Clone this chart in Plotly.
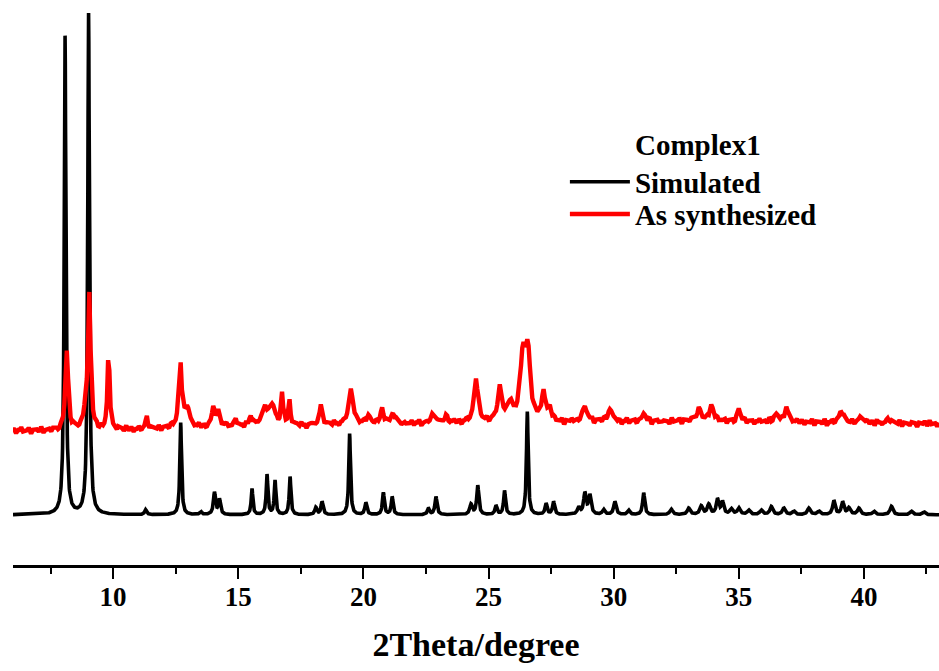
import numpy as np
import plotly.graph_objects as go

# ---- Simulated pattern: peak list (2theta, height, half-width) ----
sim_pos = [8.08, 9.02, 11.3, 12.70, 13.5, 14.05, 14.25, 15.55, 16.15, 16.47, 17.07,
           18.1, 18.35, 19.45, 20.1, 20.8, 21.15, 22.6, 22.9, 24.3, 24.57, 25.3, 25.64,
           26.55, 27.3, 27.6, 28.6, 28.85, 29.05, 29.6, 30.05, 30.6, 31.2, 32.3, 33.0,
           33.5, 33.8, 34.15, 34.35, 34.7, 35.0, 35.4, 35.9, 36.3, 36.8, 37.2, 37.8,
           38.2, 38.8, 39.15, 39.4, 39.8, 40.4, 41.1, 41.9, 42.4]
sim_hgt = [95.5, 100.0, 1.0, 18.4, 0.6, 4.4, 3.0, 5.2, 8.0, 6.8, 7.6,
           1.4, 2.6, 16.2, 2.4, 4.4, 3.6, 1.2, 3.6, 2.0, 5.8, 1.8, 4.8,
           20.6, 2.2, 2.6, 1.4, 4.2, 3.8, 1.0, 2.6, 0.9, 4.4, 1.1, 1.3,
           1.7, 2.0, 3.0, 2.5, 1.1, 1.3, 0.9, 0.9, 1.6, 1.3, 0.7, 1.3,
           0.7, 2.8, 2.5, 1.3, 1.3, 0.7, 1.7, 0.7, 0.6]
sim_wid = [0.04, 0.04, 0.05, 0.04, 0.05, 0.05, 0.05, 0.04, 0.04, 0.04, 0.04,
           0.05, 0.05, 0.04, 0.05, 0.045, 0.045, 0.05, 0.05, 0.06, 0.05, 0.05, 0.045,
           0.04, 0.05, 0.05, 0.06, 0.06, 0.06, 0.06, 0.06, 0.06, 0.05, 0.07, 0.07,
           0.07, 0.07, 0.06, 0.06, 0.07, 0.07, 0.07, 0.07, 0.07, 0.07, 0.07, 0.07,
           0.07, 0.06, 0.06, 0.07, 0.07, 0.07, 0.07, 0.07, 0.07]

# ---- As-synthesized pattern: peak list, background, noise ----
exp_pos = [8.15, 8.9, 9.05, 9.82, 11.35, 12.68, 12.95, 14.0, 14.2, 14.9, 15.5,
           16.05, 16.35, 16.75, 17.05, 18.3, 19.5, 20.2, 20.75, 21.2, 22.8, 23.3,
           24.5, 25.45, 25.85, 26.38, 26.58, 27.2, 27.45, 28.85, 29.85, 31.2, 33.4,
           33.9, 35.0, 36.5, 36.9, 39.1, 39.9, 41.0]
exp_hgt = [15.5, 4.0, 26.0, 15.5, 2.2, 13.5, 4.0, 3.5, 3.0, 1.8, 2.2,
           3.5, 4.0, 6.0, 4.5, 3.8, 7.5, 1.5, 3.0, 2.0, 2.0, 1.2,
           9.0, 6.5, 3.5, 13.0, 12.0, 6.0, 2.5, 2.8, 2.4, 1.4, 2.2,
           2.8, 2.6, 1.5, 2.8, 2.4, 1.4, 1.0]
exp_wid = [0.07, 0.10, 0.06, 0.05, 0.06, 0.07, 0.10, 0.08, 0.08, 0.05, 0.06,
           0.12, 0.12, 0.05, 0.05, 0.07, 0.10, 0.10, 0.08, 0.08, 0.10, 0.10,
           0.09, 0.10, 0.12, 0.13, 0.11, 0.08, 0.08, 0.12, 0.10, 0.10, 0.10,
           0.10, 0.07, 0.10, 0.08, 0.10, 0.08, 0.10]
exp_bg_x = list(range(6, 44))
exp_bg_y = [16.8, 16.8, 16.8, 16.8, 17.0, 17.0, 17.2, 17.4, 17.4, 17.6, 17.8, 17.8,
            17.8, 18.0, 18.0, 18.2, 18.2, 18.2, 18.4, 18.4, 18.4, 18.4, 18.4, 18.6,
            18.6, 18.6, 18.6, 18.8, 18.8, 18.6, 18.6, 18.6, 18.4, 18.4, 18.4, 18.2,
            18.2, 18.2]
exp_noise = [
    0.2,-0.3,0.1,0.4,-0.2,0.0,0.3,-0.4,0.1,0.2,-0.1,0.4,-0.3,0.0,0.2,-0.2,0.3,0.1,-0.4,0.2,
    -0.1,0.3,0.0,-0.3,0.4,0.1,-0.2,0.2,-0.4,0.1,0.3,-0.1,0.0,0.4,-0.3,0.2,-0.2,0.1,0.3,-0.1,
    0.0,-0.4,0.3,0.1,-0.2,0.4,-0.1,0.2,-0.3,0.0,0.3,-0.2,0.1,0.4,-0.4,0.2,0.0,-0.1,0.3,-0.3,
    0.1,0.2,-0.2,0.4,-0.1,-0.3,0.3,0.0,0.2,-0.4,0.1,0.3,-0.2,0.0,0.4,-0.1,0.2,-0.3,0.1,0.0,
    0.3,-0.2,0.1,-0.4,0.2,0.4,-0.1,0.0,0.3,-0.3,0.2,0.1,-0.2,0.4,0.0,-0.4,0.3,0.1,-0.1,0.2,
    -0.3,0.0,0.4,-0.2,0.1,0.3,-0.4,0.2,0.0,-0.1,0.4,-0.3,0.1,0.2,-0.2,0.3,0.0,-0.4,0.1,0.3,
    0.2,-0.1,0.0,0.3,-0.4,0.1,0.2,-0.2,0.4,0.0,-0.3,0.1,0.3,-0.1,0.2,-0.4,0.0,0.4,-0.2,0.1,
    0.4,-0.3,0.2,0.0,-0.1,0.3,-0.2,0.1,-0.4,0.2,0.0,0.3,-0.3,0.4,0.1,-0.2,0.2,-0.1,0.0,0.3,
    -0.2,0.1,0.4,-0.3,0.0,0.2,-0.1,0.3,-0.4,0.1,0.2,0.0,-0.2,0.4,-0.3,0.1,0.3,-0.1,0.2,-0.4,
    0.0,0.3,-0.2,0.1,0.4,-0.4,0.2,-0.1,0.0,0.3,-0.3,0.1,0.2,-0.2,0.4,0.0,-0.1,0.3,-0.4,0.2,
    0.1,-0.3,0.3,0.0,-0.2,0.4,0.1,-0.4,0.2,-0.1,0.3,0.0,-0.3,0.2,0.1,-0.2,0.4,-0.1,0.0,0.3,
    -0.4,0.2,0.0,0.3,-0.1,0.1,-0.3,0.4,0.2,-0.2,0.0,0.3,-0.4,0.1,0.2,-0.1,0.4,-0.3,0.0,0.2,
    0.3,-0.1,0.2,-0.4,0.0,0.4,-0.2,0.1,0.3,-0.3,0.1,0.0,0.2,-0.2,0.4,-0.4,0.1,0.3,-0.1,0.0,
    0.2,0.0,-0.3,0.4,-0.1,0.1,0.3,-0.4,0.2,0.0,-0.2,0.3,0.1,-0.3,0.4,-0.1,0.0,0.2,-0.4,0.3,
    -0.1,0.4,-0.2,0.0,0.3,-0.3,0.1,0.2,-0.4,0.3,0.0,-0.1,0.4,-0.2,0.1,0.2,-0.3,0.0,0.3,-0.1,
    0.1,-0.2,0.4,-0.3,0.2,0.0,-0.1,0.3,-0.4,0.1,0.4,-0.2,0.0,0.3,-0.1,0.2,-0.3,0.1,0.0,0.4,
    -0.3,0.2,0.1,-0.1,0.4,-0.4,0.0,0.3,-0.2,0.2,0.1,-0.3,0.4,0.0,-0.1,0.3,-0.2,0.1,0.2,-0.4,
    0.0,0.3,-0.1,0.2,-0.3,0.4,0.1,-0.2,0.0,0.3,-0.4,0.2,0.1,-0.1,0.4,-0.3,0.2,0.0,-0.2,0.3,
    0.1,-0.4,0.2,0.0,0.3,-0.2,0.4,-0.1,0.1,-0.3,0.2]

x_ticks = [10, 15, 20, 25, 30, 35, 40]
x_minor = [7.5, 12.5, 17.5, 22.5, 27.5, 32.5, 37.5, 42.5]


def profile(x, pos, hgt, wid):
    y = np.zeros_like(x)
    for p, h, w in zip(pos, hgt, wid):
        y += h * w * w / ((x - p) ** 2 + w * w)
    return y


xs = np.arange(6.0, 43.0001, 0.01)
ys = profile(xs, sim_pos, sim_hgt, sim_wid)

xe = np.arange(6.0, 43.0001, 0.05)
idx = np.clip(np.rint((xe - 6.0) / 0.1).astype(int), 0, len(exp_noise) - 1)
ye = (profile(xe, exp_pos, exp_hgt, exp_wid)
      + np.interp(xe, exp_bg_x, exp_bg_y)
      + np.array(exp_noise)[idx])

FONT = "Liberation Serif"
LEGFONT = dict(family=FONT, size=29, color="black", weight="bold")

fig = go.Figure()
fig.add_trace(go.Scatter(x=xs, y=ys, mode="lines", name="Simulated", legend="legend",
                         line=dict(color="black", width=3.6)))
fig.add_trace(go.Scatter(x=xe, y=ye, mode="lines", name="As synthesized", legend="legend2",
                         line=dict(color="#ff0000", width=4.4)))

fig.update_layout(
    width=939, height=671,
    margin=dict(l=13, r=0, t=0, b=106),
    paper_bgcolor="white", plot_bgcolor="white",
    showlegend=True,
    legend=dict(x=0.596, y=0.678, xanchor="left", yanchor="middle",
                bgcolor="rgba(0,0,0,0)", itemwidth=60, font=LEGFONT),
    legend2=dict(x=0.596, y=0.621, xanchor="left", yanchor="middle",
                 bgcolor="rgba(0,0,0,0)", itemwidth=60, font=LEGFONT),
    annotations=[dict(text="Complex1", x=0.670, y=0.743, xref="paper", yref="paper",
                      xanchor="left", yanchor="middle", showarrow=False,
                      font=LEGFONT)],
    xaxis=dict(range=[6, 43], showline=True, linecolor="black", linewidth=2.5,
               ticks="outside", ticklen=11, tickwidth=2, tickcolor="black",
               tickvals=x_ticks, showgrid=False, zeroline=False,
               ticklabelstandoff=-5,
               minor=dict(tickvals=x_minor, ticks="outside", ticklen=6,
                          tickwidth=2, tickcolor="black"),
               tickfont=dict(family=FONT, size=27, color="black", weight="bold"),
               title=dict(text="2Theta/degree", standoff=22,
                          font=dict(family=FONT, size=34, color="black", weight="bold"))),
    yaxis=dict(visible=False, range=[-10, 102.8]),
)

fig.write_html("out.html", config={"displayModeBar": False},
               post_script="document.body.style.margin='0';")
